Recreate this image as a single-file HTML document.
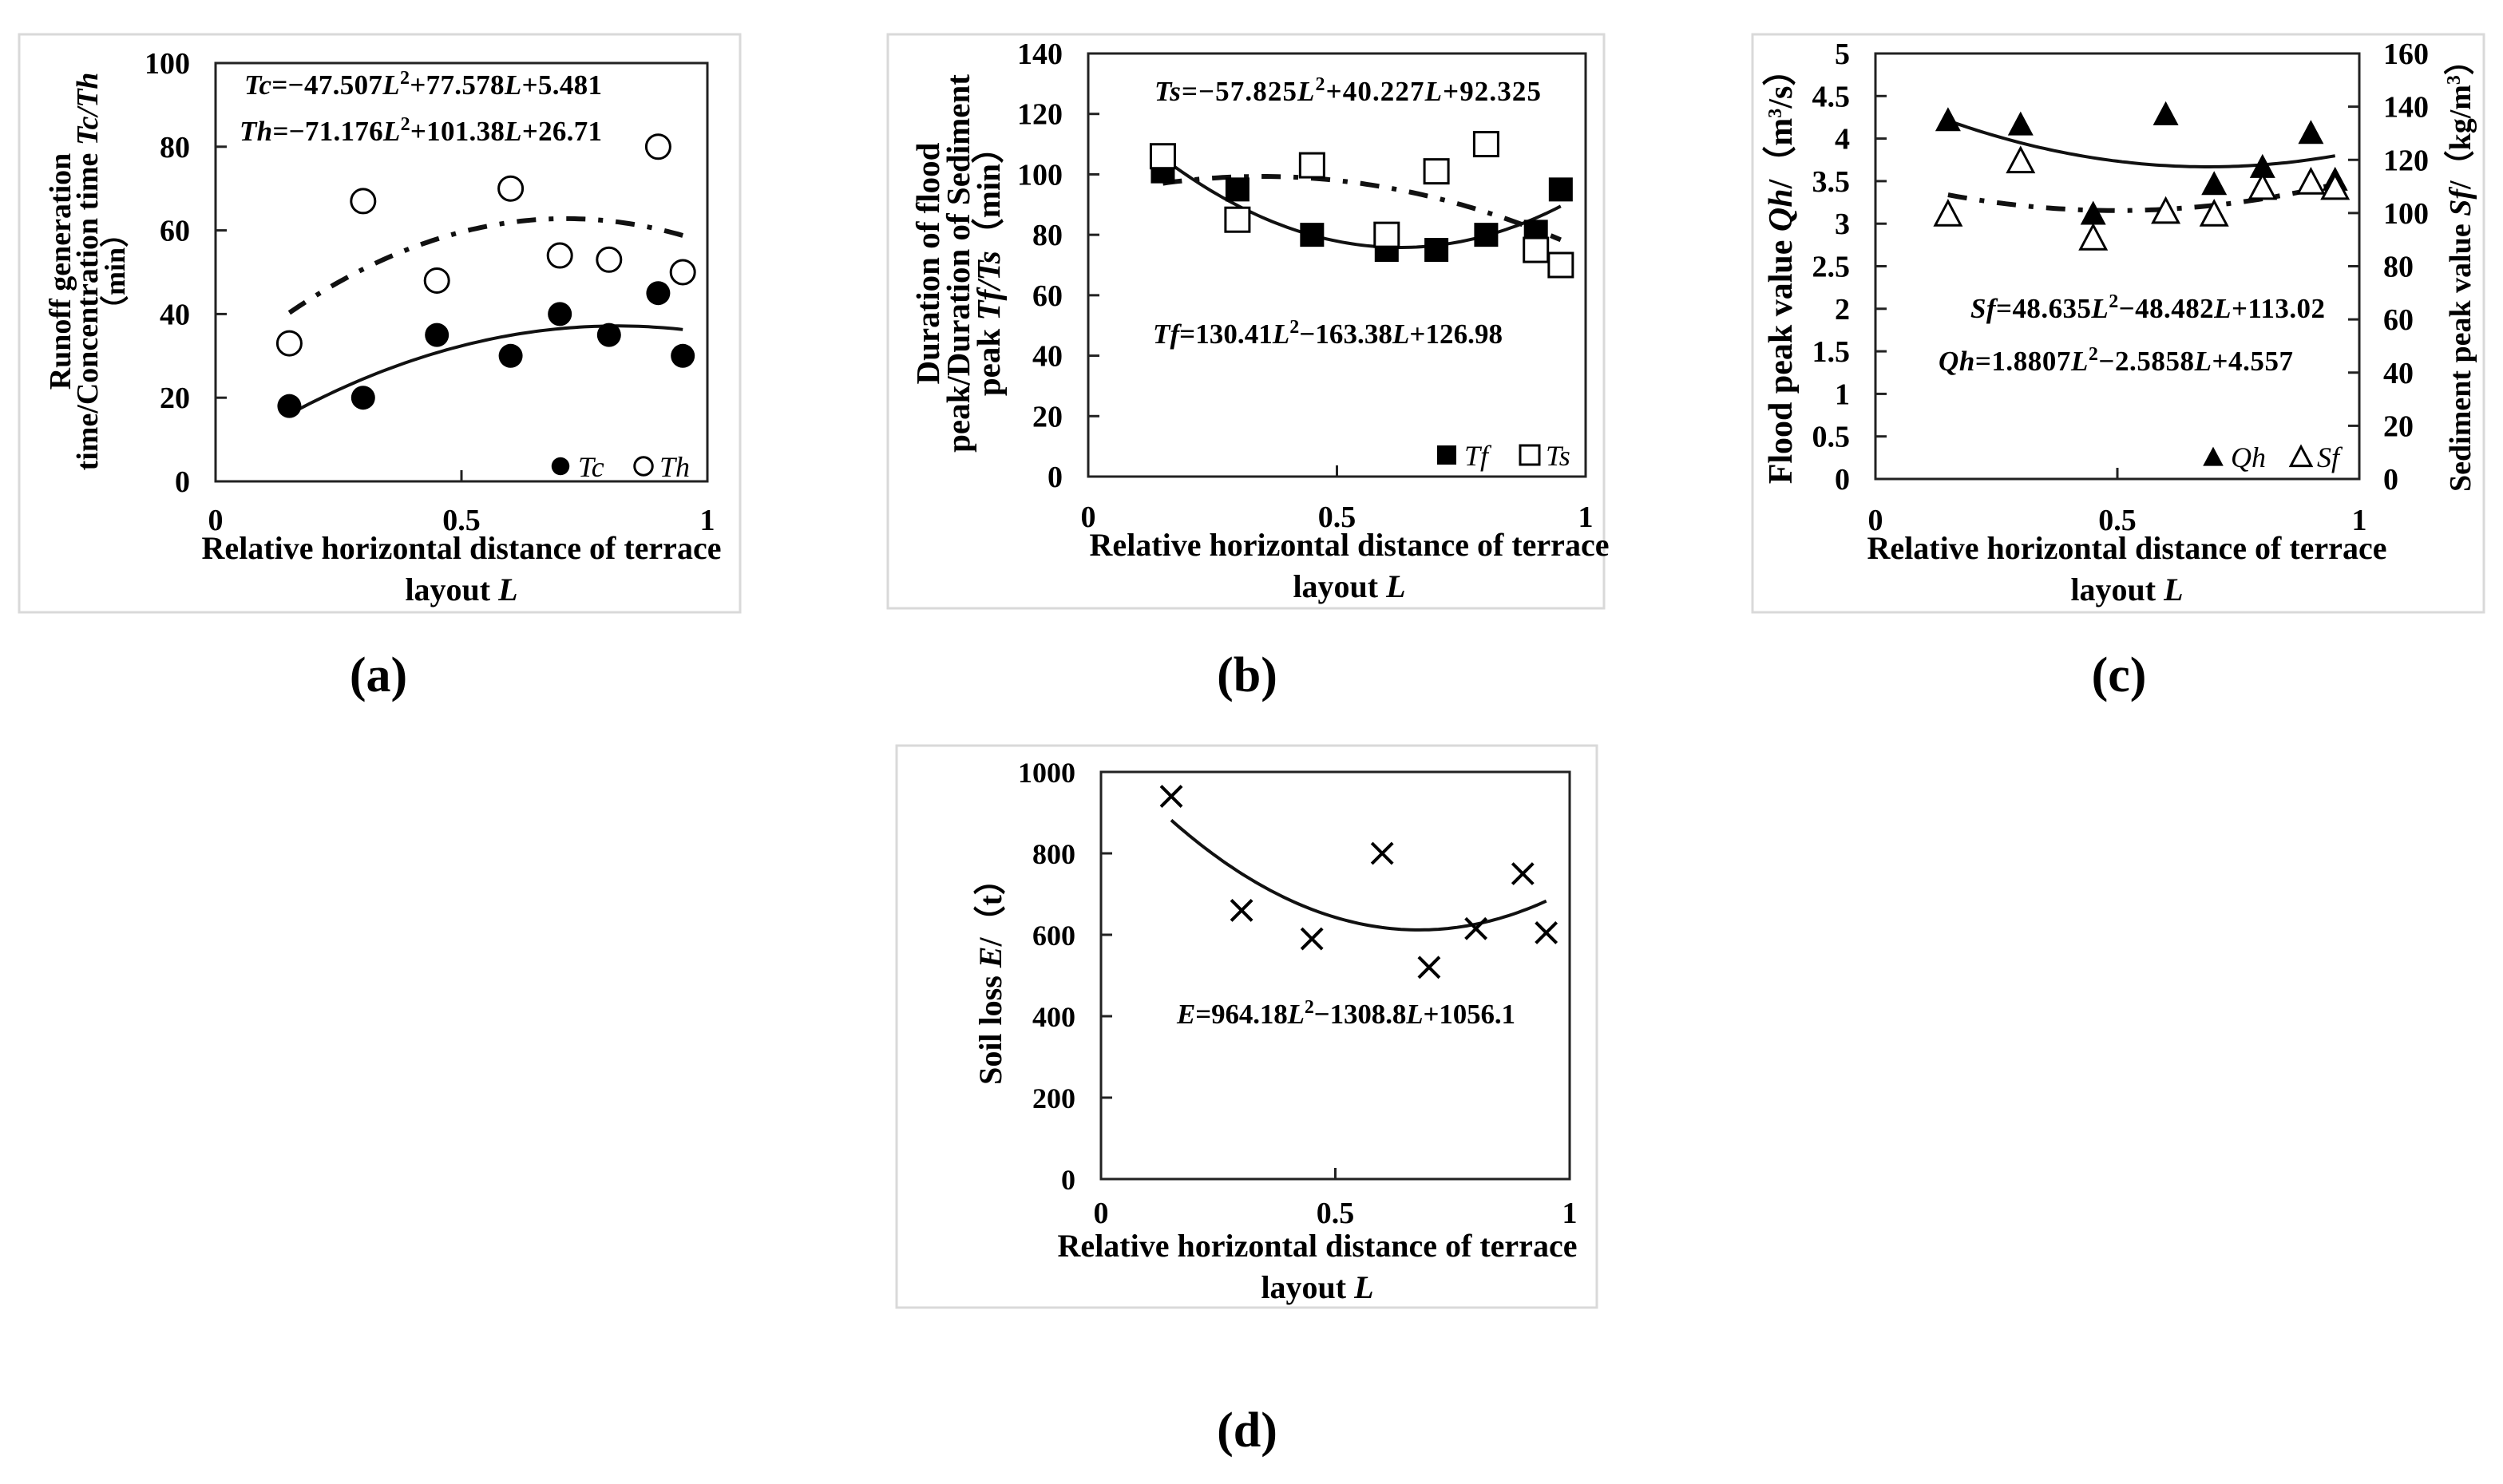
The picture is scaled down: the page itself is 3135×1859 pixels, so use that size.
<!DOCTYPE html>
<html><head><meta charset="utf-8"><style>
html,body{margin:0;padding:0;background:#fff;}
svg{display:block;font-family:"Liberation Serif",serif;}
</style></head><body>
<svg id="fig" width="3135" height="1859" viewBox="0 0 3135 1859" xmlns="http://www.w3.org/2000/svg">
<rect x="0" y="0" width="3135" height="1859" fill="#fff"/>
<rect x="24" y="43" width="903" height="724" fill="none" stroke="#d9d9d9" stroke-width="3"/>
<rect x="1112" y="43" width="897" height="719" fill="none" stroke="#d9d9d9" stroke-width="3"/>
<rect x="2195" y="43" width="916" height="724" fill="none" stroke="#d9d9d9" stroke-width="3"/>
<rect x="1123" y="934" width="877" height="704" fill="none" stroke="#d9d9d9" stroke-width="3"/>
<text x="474" y="866" font-size="62" font-weight="bold" text-anchor="middle">(a)</text>
<text x="1562" y="866" font-size="62" font-weight="bold" text-anchor="middle">(b)</text>
<text x="2654" y="866" font-size="62" font-weight="bold" text-anchor="middle">(c)</text>
<text x="1562" y="1812" font-size="62" font-weight="bold" text-anchor="middle">(d)</text>
</svg>
<script>
// ---- data ----
const layoutL = [0.15, 0.3, 0.45, 0.6, 0.7, 0.8, 0.9, 0.95];
const tcValues = [18, 20, 35, 30, 40, 35, 45, 30];
const thValues = [33, 67, 48, 70, 54, 53, 80, 50];
const tfValues = [101, 95, 80, 75, 75, 80, 81, 95];
const tsValues = [106, 85, 103, 80, 101, 110, 75, 70];
const qhValues = [4.2, 4.15, 3.1, 4.27, 3.45, 3.65, 4.05, 3.5];
const sfValues = [99, 119, 90, 100, 99, 109, 111, 109];
const eValues = [940, 660, 590, 800, 520, 615, 750, 605];
const tcFit = [-47.507, 77.578, 5.481];
const thFit = [-71.176, 101.38, 26.71];
const tfFit = [130.41, -163.38, 126.98];
const tsFit = [-57.825, 40.227, 92.325];
const qhFit = [1.8807, -2.5858, 4.557];
const sfFit = [48.635, -48.482, 113.02];
const eFit = [964.18, -1308.8, 1056.1];
const xTicks = [0, 0.5, 1];
const xTickLabels = ['0', '0.5', '1'];
const aTicks = [0, 20, 40, 60, 80, 100];
const bTicks = [0, 20, 40, 60, 80, 100, 120, 140];
const cTicks = [0, 0.5, 1, 1.5, 2, 2.5, 3, 3.5, 4, 4.5, 5];
const cTickLabels = ['0', '0.5', '1', '1.5', '2', '2.5', '3', '3.5', '4', '4.5', '5'];
const cRightTicks = [0, 20, 40, 60, 80, 100, 120, 140, 160];
const dTicks = [0, 200, 400, 600, 800, 1000];

const NS = 'http://www.w3.org/2000/svg';
const svg = document.getElementById('fig');
function mk(tag, attrs, parent) {
  const e = document.createElementNS(NS, tag);
  for (const k in attrs) e.setAttribute(k, attrs[k]);
  (parent || svg).appendChild(e);
  return e;
}
function scale(d0, d1, r0, r1) { return v => r0 + (v - d0) / (d1 - d0) * (r1 - r0); }
function quad(c, L) { return c[0] * L * L + c[1] * L + c[2]; }

function axes(p) {
  const g = mk('g', {});
  
  
  const r = mk('rect', {x: p.x0, y: p.y0, width: p.x1 - p.x0, height: p.y1 - p.y0, fill: 'none', stroke: '#222', 'stroke-width': 3}, g);
  
  
  const sx = scale(0, 1, p.x0, p.x1);
  xTicks.forEach((t, i) => {
    const X = sx(t);
    if (i === 1) mk('line', {x1: X, x2: X, y1: p.y1, y2: p.y1 - 14, stroke: '#222', 'stroke-width': 3}, g);
    const tx = mk('text', {x: X, y: p.xTickY, 'font-size': 38, 'text-anchor': 'middle', 'font-weight': 'bold'}, g);
    tx.textContent = xTickLabels[i];
    
    
  });
  const t1 = mk('text', {x: p.xTitleX, y: p.xTitleY, 'font-size': 40, 'font-weight': 'bold', 'text-anchor': 'middle'}, g);
  t1.textContent = 'Relative horizontal distance of terrace';
  
  
  const t2 = mk('text', {x: p.xTitleX, y: p.xTitleY + 52, 'font-size': 40, 'font-weight': 'bold', 'text-anchor': 'middle'}, g);
  t2.innerHTML = 'layout <tspan font-style="italic">L</tspan>';
  
  
  return sx;
}
function yTicks(p, ticks, labels, sy, side, fs) {
  ticks.forEach((t, i) => {
    const Y = sy(t);
    if (side === 'left') {
      mk('line', {x1: p.x0, x2: p.x0 + 14, y1: Y, y2: Y, stroke: '#222', 'stroke-width': 3});
      const tx = mk('text', {x: p.x0 - 32, y: Y + 13, 'font-size': fs || 38, 'font-weight': 'bold', 'text-anchor': 'end'});
      tx.textContent = labels ? labels[i] : String(t);
      
      
    } else {
      mk('line', {x1: p.x1, x2: p.x1 - 14, y1: Y, y2: Y, stroke: '#222', 'stroke-width': 3});
      const tx = mk('text', {x: p.x1 + 30, y: Y + 13, 'font-size': fs || 38, 'font-weight': 'bold', 'text-anchor': 'start'});
      tx.textContent = String(t);
      
      
    }
  });
}
function fitLine(sx, sy, c, dashed, name) {
  let d = '';
  for (let k = 0; k <= 80; k++) {
    const L = 0.15 + 0.8 * k / 80;
    d += (k ? 'L' : 'M') + sx(L).toFixed(1) + ',' + sy(quad(c, L)).toFixed(1);
  }
  const a = {d: d, fill: 'none', stroke: '#111', 'stroke-width': dashed ? 6 : 4};
  if (dashed) a['stroke-dasharray'] = '24 16 6 16';
  const e = mk('path', a);
  
  
}
function marker(type, X, Y, name, s) {
  s = s || 1;
  let e;
  if (type === 'fc') e = mk('circle', {cx: X, cy: Y, r: 15 * s, fill: '#000'});
  else if (type === 'oc') e = mk('circle', {cx: X, cy: Y, r: 15 * s, fill: '#fff', stroke: '#000', 'stroke-width': 3});
  else if (type === 'fs') e = mk('rect', {x: X - 15 * s, y: Y - 15 * s, width: 30 * s, height: 30 * s, fill: '#000'});
  else if (type === 'os') e = mk('rect', {x: X - 15 * s, y: Y - 15 * s, width: 30 * s, height: 30 * s, fill: '#fff', stroke: '#000', 'stroke-width': 3});
  else if (type === 'ft') e = mk('polygon', {points: `${X},${Y - 18 * s} ${X - 16 * s},${Y + 12 * s} ${X + 16 * s},${Y + 12 * s}`, fill: '#000'});
  else if (type === 'ot') e = mk('polygon', {points: `${X},${Y - 18 * s} ${X - 16 * s},${Y + 12 * s} ${X + 16 * s},${Y + 12 * s}`, fill: '#fff', stroke: '#000', 'stroke-width': 3});
  else if (type === 'x') e = mk('path', {d: `M${X - 13},${Y - 13}L${X + 13},${Y + 13}M${X + 13},${Y - 13}L${X - 13},${Y + 13}`, stroke: '#000', 'stroke-width': 4, fill: 'none'});
  
  
}
function txt(x, y, html, fs, name, opts) {
  const a = Object.assign({x: x, y: y, 'font-size': fs, 'font-weight': 'bold'}, opts || {});
  const e = mk('text', a);
  e.innerHTML = html;
  
  
  return e;
}
function vtitle(x, cy, html, fs, name) {
  const e = mk('text', {x: 0, y: 0, 'font-size': fs, 'font-weight': 'bold', 'text-anchor': 'middle', transform: `translate(${x},${cy}) rotate(-90)`});
  e.innerHTML = html;
  
  
}
const I = s => `<tspan font-style="italic">${s}</tspan>`;
const SUP = n => `<tspan font-size="24" baseline-shift="super">${n}</tspan>`;
const S2 = SUP('2');

// ---- panel a ----
const pa = {name: 'panel-a', x0: 270, x1: 886, y0: 79, y1: 603, xTickY: 664, xTitleX: 578, xTitleY: 700};
const sxa = axes(pa);
const sya = scale(0, 100, pa.y1, pa.y0);
yTicks(pa, aTicks, null, sya, 'left');
fitLine(sxa, sya, thFit, true, 'th-fit-line');
fitLine(sxa, sya, tcFit, false, 'tc-fit-line');
layoutL.forEach((L, i) => { marker('oc', sxa(L), sya(thValues[i]), 'th-point'); });
layoutL.forEach((L, i) => { marker('fc', sxa(L), sya(tcValues[i]), 'tc-point'); });
txt(306, 118, I('Tc') + '=−47.507' + I('L') + S2 + '+77.578' + I('L') + '+5.481', 35, 'tc-equation', {textLength: 448});
txt(300, 176, I('Th') + '=−71.176' + I('L') + S2 + '+101.38' + I('L') + '+26.71', 35, 'th-equation', {textLength: 454});
marker('fc', 702, 584, 'legend-tc-marker', 0.75);
txt(724, 597, I('Tc'), 36, 'legend-tc', {'font-weight': 'normal'});
marker('oc', 806, 584, 'legend-th-marker', 0.75);
txt(826, 597, I('Th'), 36, 'legend-th', {'font-weight': 'normal'});
vtitle(88, 340, 'Runoff generation', 38, 'y-axis-title-a-line1');
vtitle(122, 340, 'time/Concentration time ' + I('Tc/Th'), 38, 'y-axis-title-a-line2');
vtitle(156, 340, '（min）', 36, 'y-axis-title-a-line3');

// ---- panel b ----
const pb = {name: 'panel-b', x0: 1363, x1: 1986, y0: 67, y1: 597, xTickY: 660, xTitleX: 1690, xTitleY: 696};
const sxb = axes(pb);
const syb = scale(0, 140, pb.y1, pb.y0);
yTicks(pb, bTicks, null, syb, 'left');
fitLine(sxb, syb, tsFit, true, 'ts-fit-line');
fitLine(sxb, syb, tfFit, false, 'tf-fit-line');
layoutL.forEach((L, i) => { marker('fs', sxb(L), syb(tfValues[i]), 'tf-point'); });
layoutL.forEach((L, i) => { marker('os', sxb(L), syb(tsValues[i]), 'ts-point'); });
txt(1446, 126, I('Ts') + '=−57.825' + I('L') + S2 + '+40.227' + I('L') + '+92.325', 35, 'ts-equation', {textLength: 484});
txt(1444, 430, I('Tf') + '=130.41' + I('L') + S2 + '−163.38' + I('L') + '+126.98', 35, 'tf-equation', {textLength: 438});
marker('fs', 1812, 570, 'legend-tf-marker', 0.8);
txt(1834, 583, I('Tf'), 36, 'legend-tf', {'font-weight': 'normal'});
marker('os', 1916, 570, 'legend-ts-marker', 0.8);
txt(1936, 583, I('Ts'), 36, 'legend-ts', {'font-weight': 'normal'});
vtitle(1176, 330, 'Duration of flood', 41, 'y-axis-title-b-line1');
vtitle(1214, 330, 'peak/Duration of Sediment', 41, 'y-axis-title-b-line2');
vtitle(1252, 330, 'peak ' + I('Tf/Ts') + '（min）', 41, 'y-axis-title-b-line3');

// ---- panel c ----
const pc = {name: 'panel-c', x0: 2349, x1: 2955, y0: 67, y1: 600, xTickY: 664, xTitleX: 2664, xTitleY: 700};
const sxc = axes(pc);
const syc = scale(0, 5, pc.y1, pc.y0);
const syc2 = scale(0, 160, pc.y1, pc.y0);
yTicks(pc, cTicks, cTickLabels, syc, 'left');
yTicks(pc, cRightTicks, null, syc2, 'right');
fitLine(sxc, syc2, sfFit, true, 'sf-fit-line');
fitLine(sxc, syc, qhFit, false, 'qh-fit-line');
layoutL.forEach((L, i) => { marker('ft', sxc(L), syc(qhValues[i]), 'qh-point'); });
layoutL.forEach((L, i) => { marker('ot', sxc(L), syc2(sfValues[i]), 'sf-point'); });
txt(2468, 398, I('Sf') + '=48.635' + I('L') + S2 + '−48.482' + I('L') + '+113.02', 35, 'sf-equation', {textLength: 444});
txt(2428, 464, I('Qh') + '=1.8807' + I('L') + S2 + '−2.5858' + I('L') + '+4.557', 35, 'qh-equation', {textLength: 444});
marker('ft', 2772, 574, 'legend-qh-marker', 0.8);
txt(2794, 585, I('Qh'), 36, 'legend-qh', {'font-weight': 'normal'});
marker('ot', 2882, 574, 'legend-sf-marker', 0.8);
txt(2902, 585, I('Sf'), 36, 'legend-sf', {'font-weight': 'normal'});
vtitle(2244, 336, 'Flood peak value ' + I('Qh') + '/（m' + SUP('3') + '/s）', 42, 'y-axis-title-c-left');
vtitle(3094, 336, 'Sediment peak value ' + I('Sf') + '/（kg/m' + SUP('3') + '）', 38, 'y-axis-title-c-right');

// ---- panel d ----
const pd = {name: 'panel-d', x0: 1379, x1: 1966, y0: 967, y1: 1477, xTickY: 1532, xTitleX: 1650, xTitleY: 1574};
const sxd = axes(pd);
const syd = scale(0, 1000, pd.y1, pd.y0);
yTicks(pd, dTicks, null, syd, 'left', 36);
fitLine(sxd, syd, eFit, false, 'e-fit-line');
layoutL.forEach((L, i) => { marker('x', sxd(L), syd(eValues[i]), 'e-point'); });
txt(1474, 1282, I('E') + '=964.18' + I('L') + S2 + '−1308.8' + I('L') + '+1056.1', 35, 'e-equation', {textLength: 424});
vtitle(1254, 1220, 'Soil loss ' + I('E') + '/（t）', 40, 'y-axis-title-d');
</script>
</body></html>
